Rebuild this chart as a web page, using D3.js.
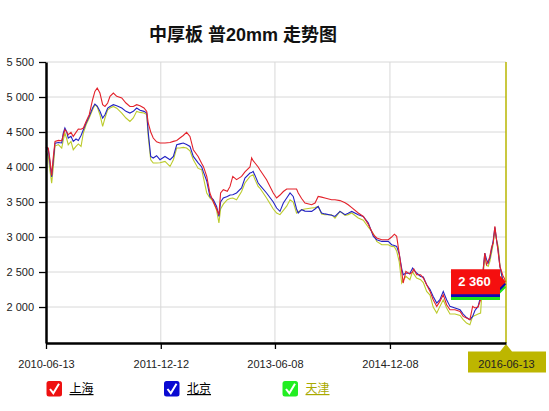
<!DOCTYPE html>
<html>
<head>
<meta charset="utf-8">
<script src="https://cdn.jsdelivr.net/npm/d3@7"></script>
<style>
  body { margin: 0; background: #fff; }
  text { font-family: "Liberation Sans", Arial, "Noto Sans CJK SC", sans-serif; }
</style>
</head>
<body>
<div id="chart"></div>
<script>
// data
var dates = ["2010-06-13","2010-06-24","2010-07-02","2010-07-10","2010-07-18","2010-07-26","2010-08-11","2010-08-27",
  "2010-09-03","2010-09-11","2010-09-20","2010-09-27","2010-10-10","2010-10-21","2010-11-03","2010-11-14","2010-11-27",
  "2010-12-08","2010-12-21","2011-01-05","2011-01-21","2011-02-01","2011-02-12","2011-02-25","2011-03-10","2011-03-21",
  "2011-04-03","2011-04-14","2011-04-30","2011-05-16","2011-06-09","2011-06-29","2011-07-18","2011-08-03","2011-08-19",
  "2011-09-04","2011-09-23","2011-10-06","2011-10-13","2011-10-25","2011-11-06","2011-11-22","2011-12-08","2012-01-01",
  "2012-01-25","2012-02-10","2012-02-26","2012-03-12","2012-03-28","2012-04-13","2012-04-29","2012-05-15","2012-06-07",
  "2012-06-24","2012-07-02","2012-07-18","2012-08-02","2012-08-18","2012-09-03","2012-09-14","2012-09-22","2012-10-05",
  "2012-10-24","2012-11-06","2012-11-19","2012-12-07","2012-12-31","2013-01-16","2013-02-09","2013-02-17","2013-02-24",
  "2013-03-05","2013-03-20","2013-03-28","2013-04-29","2013-05-31","2013-06-16","2013-07-02","2013-07-18","2013-08-03",
  "2013-08-19","2013-09-03","2013-09-19","2013-09-27","2013-10-13","2013-10-29","2013-11-30","2013-12-16","2013-12-31",
  "2014-01-16","2014-02-01","2014-03-05","2014-03-21","2014-04-14","2014-05-08","2014-05-23","2014-06-09","2014-07-10",
  "2014-08-03","2014-08-27","2014-09-20","2014-10-06","2014-10-30","2014-11-30","2014-12-16","2014-12-29","2015-01-09",
  "2015-01-21","2015-02-02","2015-02-09","2015-02-22","2015-03-13","2015-03-26","2015-04-01","2015-04-14","2015-05-03",
  "2015-05-16","2015-06-01","2015-06-17","2015-07-02","2015-07-19","2015-08-03","2015-08-19","2015-09-04","2015-09-20",
  "2015-10-14","2015-11-07","2015-11-22","2015-12-08","2015-12-24","2016-01-06","2016-01-17","2016-02-01","2016-02-13",
  "2016-02-21","2016-03-04","2016-03-12","2016-03-20","2016-03-28","2016-04-05","2016-04-13","2016-04-21","2016-04-29",
  "2016-05-07","2016-05-15","2016-05-29","2016-06-13"];

var shanghai = [4290,4270,4100,3880,4150,4366,4380,4376,4450,4533,4500,4461,4495,4437,4495,4543,4540,
  4557,4651,4747,4961,5080,5129,5057,4890,4865,4914,5009,5057,5009,4986,4914,4865,4865,4890,
  4876,4843,4795,4629,4500,4414,4360,4343,4343,4350,4366,4380,4414,4450,4495,4437,4247,4151,
  4050,4009,3866,3629,3500,3400,3319,3629,3676,3652,3723,3866,3819,3866,3930,4000,4129,4090,
  4057,4000,3961,3819,3629,3557,3600,3650,3686,3686,3686,3686,3629,3550,3486,3461,3486,3580,
  3570,3557,3533,3533,3520,3490,3461,3420,3343,3294,3180,3033,2986,2961,2961,3000,3040,3009,
  2771,2509,2343,2509,2470,2500,2543,2461,2461,2414,2318,2223,2104,2009,2080,2176,2033,1961,
  1961,1937,1866,1843,1819,2009,1986,2000,2104,2400,2771,2604,2650,2723,2850,2914,3152,2961,
  2771,2580,2450,2360];

var beijing = [4280,4250,4050,3860,4100,4340,4350,4343,4480,4557,4500,4414,4440,4366,4400,4380,4450,
  4533,4629,4723,4843,4900,4870,4795,4700,4747,4843,4865,4890,4876,4843,4795,4771,4795,4843,
  4810,4795,4771,4500,4151,4129,4161,4104,4151,4104,4151,4318,4330,4343,4320,4294,4151,4060,
  4000,3930,3800,3580,3533,3437,3294,3500,3557,3580,3600,3604,3629,3700,3843,3914,3920,3937,
  3880,3771,3740,3629,3500,3414,3366,3486,3557,3629,3580,3400,3343,3390,3370,3366,3400,3437,
  3343,3330,3310,3294,3366,3319,3340,3366,3319,3294,3200,3009,2961,2937,2937,2890,2880,2866,
  2760,2550,2461,2486,2480,2557,2530,2486,2437,2430,2318,2250,2150,2057,2104,2223,2104,2009,
  1986,1960,1900,1850,1819,1866,1950,2009,2150,2400,2771,2680,2629,2700,2819,2950,3140,2961,
  2800,2580,2380,2320];

var tianjin = [4230,4150,3950,3770,4000,4300,4320,4271,4380,4486,4400,4318,4366,4247,4294,4330,4294,
  4486,4604,4700,4818,4890,4860,4747,4580,4700,4818,4843,4865,4840,4771,4700,4651,4700,4795,
  4780,4771,4750,4437,4104,4057,4057,4060,4080,4009,4104,4271,4271,4280,4271,4230,4104,3980,
  3961,3850,3629,3560,3509,3380,3200,3400,3470,3533,3550,3557,3533,3650,3771,3866,3880,3890,
  3820,3723,3700,3557,3400,3343,3319,3380,3440,3533,3500,3343,3360,3390,3400,3414,3420,3437,
  3330,3319,3319,3271,3366,3310,3320,3343,3271,3240,3140,3050,2937,2890,2890,2866,2860,2800,
  2650,2343,2380,2437,2390,2509,2470,2414,2390,2350,2223,2170,2000,1914,2009,2104,1986,1900,
  1900,1880,1820,1771,1747,1866,1880,1900,1914,2300,2723,2600,2580,2650,2771,2900,3104,2950,
  2866,2600,2340,2280];

var seriesNames = ["上海", "北京", "天津"];
var lineColors = ["#e3222b", "#2323c3", "#bccb2c"];
var flagColors = ["#f50f0f", "#0a0ab4", "#1ee01e"];
var legendColors = ["#ee1111", "#0a0ad2", "#22ee22"];
var legendTextColors = ["#000", "#000", "#a9a900"];

var yTicks = [2000, 2500, 3000, 3500, 4000, 4500, 5000, 5500];
var xTicks = ["2010-06-13", "2011-12-12", "2013-06-08", "2014-12-08", "2016-06-13"];
var yMin = 1486, yMax = 5500;

// Set up our chart area
var svgWidth = 549, svgHeight = 411;
var margin = { top: 62, right: 43, bottom: 68, left: 46 };
var width = svgWidth - margin.left - margin.right;
var height = svgHeight - margin.top - margin.bottom;

var parseDate = d3.timeParse("%Y-%m-%d");
var fmtDate = d3.timeFormat("%Y-%m-%d");
var fmtNum = d3.formatLocale({ decimal: ".", thousands: " ", grouping: [3], currency: ["", ""] }).format(",");

var svg = d3.select("#chart").append("svg")
  .attr("width", svgWidth)
  .attr("height", svgHeight);

// title
svg.append("text")
  .attr("x", 149)
  .attr("y", 41)
  .style("font-size", "18px")
  .style("font-weight", "bold")
  .attr("fill", "#111")
  .text("中厚板 普20mm 走势图");

var chartGroup = svg.append("g")
  .attr("transform", `translate(${margin.left}, ${margin.top})`);

var xScale = d3.scaleTime()
  .domain([parseDate(xTicks[0]), parseDate(xTicks[xTicks.length - 1])])
  .range([0, width]);

var yScale = d3.scaleLinear()
  .domain([yMin, yMax])
  .range([height, 0]);

// grid
chartGroup.append("g").selectAll("line")
  .data(yTicks)
  .enter().append("line")
  .attr("x1", 0).attr("x2", width)
  .attr("y1", d => yScale(d)).attr("y2", d => yScale(d))
  .attr("stroke", "#d8d8d8").attr("stroke-width", 1);

chartGroup.append("g").selectAll("line")
  .data(xTicks.slice(1, -1))
  .enter().append("line")
  .attr("x1", d => xScale(parseDate(d))).attr("x2", d => xScale(parseDate(d)))
  .attr("y1", 0).attr("y2", height)
  .attr("stroke", "#d8d8d8").attr("stroke-width", 1);

// series lines
var series = [shanghai, beijing, tianjin];
var line = d3.line()
  .x((d, i) => xScale(parseDate(dates[i])))
  .y(d => yScale(d));

// draw tianjin first so shanghai sits on top
[2, 1, 0].forEach(function(k) {
  chartGroup.append("path")
    .datum(series[k])
    .attr("fill", "none")
    .attr("stroke", lineColors[k])
    .attr("stroke-width", 1.1)
    .attr("d", line);
});

// crosshair at the last date
var lastX = xScale(parseDate(dates[dates.length - 1]));
chartGroup.append("line")
  .attr("x1", lastX).attr("x2", lastX)
  .attr("y1", 0).attr("y2", height)
  .attr("stroke", "#b9b600").attr("stroke-width", 1.5);

// value flags
[2, 1, 0].forEach(function(k) {
  var v = series[k][series[k].length - 1];
  var yv = yScale(v);
  var x0 = lastX - 55, x1 = lastX - 6, h = 12.5;
  chartGroup.append("path")
    .attr("d", `M${x0},${yv - h}L${x1},${yv - h}L${x1},${yv - 6}L${lastX},${yv}L${x1},${yv + 6}L${x1},${yv + h}L${x0},${yv + h}Z`)
    .attr("fill", flagColors[k]);
  if (k === 0) {
    chartGroup.append("text")
      .attr("x", (x0 + x1) / 2 - 1)
      .attr("y", yv + 4.5)
      .attr("text-anchor", "middle")
      .attr("fill", "#fff")
      .style("font-size", "13px")
      .style("font-weight", "bold")
      .text(fmtNum(v));
  }
});

// olive box behind the last date label
var boxY = height + 8.5;
chartGroup.append("path")
  .attr("d", `M${lastX - 38},${boxY}L${lastX - 6},${boxY}L${lastX},${height + 1}L${lastX + 6},${boxY}L${lastX + 40},${boxY}L${lastX + 40},${boxY + 21}L${lastX - 38},${boxY + 21}Z`)
  .attr("fill", "#bdb600");

// axes
var leftAxis = d3.axisLeft(yScale)
  .tickValues(yTicks)
  .tickSize(7)
  .tickSizeOuter(0)
  .tickPadding(5)
  .tickFormat(fmtNum);

var bottomAxis = d3.axisBottom(xScale)
  .tickValues(xTicks.map(parseDate))
  .tickSize(6)
  .tickSizeOuter(0)
  .tickPadding(11)
  .tickFormat(fmtDate);

var yAxis = chartGroup.append("g").call(leftAxis);
var xAxis = chartGroup.append("g")
  .attr("transform", `translate(0, ${height})`)
  .call(bottomAxis);

[yAxis, xAxis].forEach(function(ax) {
  ax.select(".domain").attr("stroke", "#000").attr("stroke-width", 2.5);
  ax.selectAll(".tick line").attr("stroke", "#000").attr("stroke-width", 1.3);
  ax.selectAll(".tick text")
    .attr("fill", "#222")
    .style("font-size", "11px")
    .style("font-family", "'Liberation Sans', Arial, sans-serif");
});
xAxis.selectAll(".tick line").filter((d, i) => i === xTicks.length - 1).remove();

// legend
var legendX = [46.5, 164, 282.5];
var legend = svg.append("g");
seriesNames.forEach(function(name, k) {
  var g = legend.append("g").attr("transform", `translate(${legendX[k]}, 381)`);
  g.append("rect")
    .attr("width", 15.5).attr("height", 15.5)
    .attr("rx", 2.5)
    .attr("fill", legendColors[k]);
  g.append("path")
    .attr("d", "M3.5,8 L6.8,12.2 L12.5,2.8")
    .attr("fill", "none")
    .attr("stroke", "#fff")
    .attr("stroke-width", 2);
  g.append("text")
    .attr("x", 23)
    .attr("y", 12)
    .attr("fill", legendTextColors[k])
    .style("font-size", "12px")
    .style("text-decoration", "underline")
    .text(name);
});
</script>
</body>
</html>
